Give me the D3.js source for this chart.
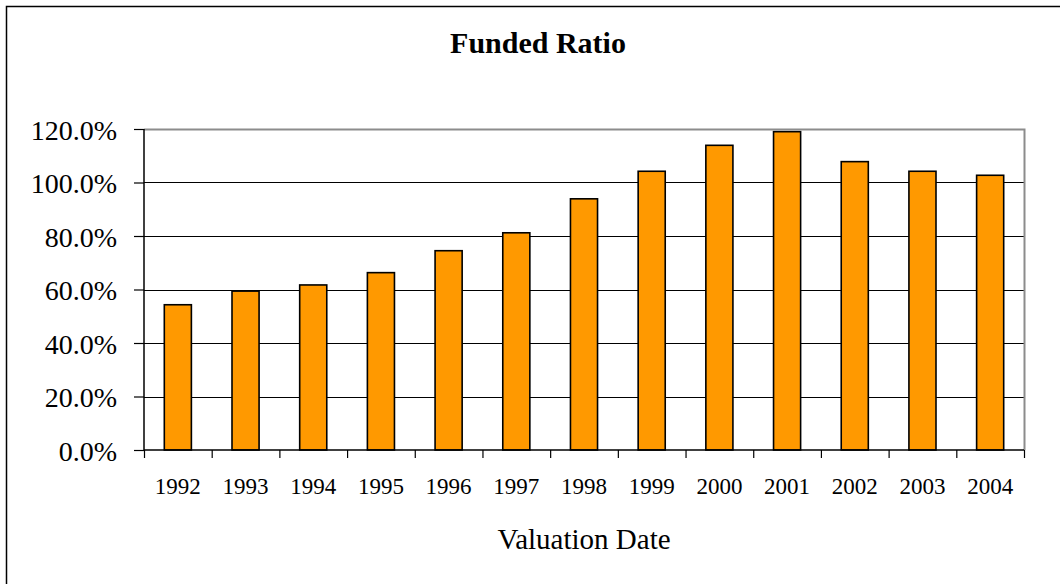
<!DOCTYPE html>
<html>
<head>
<meta charset="utf-8">
<script src="https://cdn.jsdelivr.net/npm/d3@7"></script>
<style>
	body { margin: 0; background: #fff; }
	svg { display: block; }
	text { font-family: "Liberation Serif", "Times New Roman", serif; fill: #000; }
</style>
</head>
<body>
<svg id="chart" width="1060" height="584"></svg>
<script>
const years = ['1992', '1993', '1994', '1995', '1996', '1997', '1998', '1999', '2000', '2001', '2002', '2003', '2004'];
const funded = [0.543, 0.594, 0.617, 0.663, 0.745, 0.812, 0.939, 1.042, 1.139, 1.190, 1.078, 1.042, 1.027];
const yTicks = [0, 0.2, 0.4, 0.6, 0.8, 1.0, 1.2];

const serif = '"Liberation Serif", "Times New Roman", serif';
const svg = d3.select('#chart');

// outer chart frame (runs off the right/bottom edge like the original)
svg.append('rect')
	.attr('x', 6.5).attr('y', 6.5)
	.attr('width', 1080).attr('height', 600)
	.attr('fill', 'none').attr('stroke', '#000').attr('stroke-width', 1.5);

const margin = {top: 129, right: 36, bottom: 134, left: 144};
const width = 1060 - margin.left - margin.right;
const height = 584 - margin.top - margin.bottom;

const g = svg.append('g').attr('transform', 'translate(' + margin.left + ',' + margin.top + ')');

const x = d3.scaleBand().domain(years).range([0, width]).paddingInner(0.6).paddingOuter(0.3);
const xb = d3.scaleLinear().domain([0, years.length]).range([0, width]);
const y = d3.scaleLinear().domain([0, 1.2]).range([height, 0]);

// gridlines
g.append('g')
	.selectAll('line')
	.data(yTicks.slice(1, -1))
	.enter().append('line')
	.attr('x1', 0).attr('x2', width)
	.attr('y1', d => Math.round(y(d)) + 0.5).attr('y2', d => Math.round(y(d)) + 0.5)
	.attr('stroke', '#000').attr('stroke-width', 1);

// plot area top / right border
g.append('path')
	.attr('d', 'M0,' + (y(1.2) + 0.5) + 'H' + (width + 0.5) + 'V' + height)
	.attr('fill', 'none').attr('stroke', '#8c8c8c').attr('stroke-width', 2);

// bars
g.selectAll('.bar')
	.data(funded)
	.enter().append('rect')
	.attr('class', 'bar')
	.attr('x', (d, i) => x(years[i]))
	.attr('y', d => y(d))
	.attr('width', x.bandwidth())
	.attr('height', d => height - y(d))
	.attr('fill', '#ff9900')
	.attr('stroke', '#000')
	.attr('stroke-width', 1.6);

// y axis
const yAxis = g.append('g')
	.call(d3.axisLeft(y).tickValues(yTicks).tickSize(10).tickPadding(17).tickFormat(d3.format('.1%')));
yAxis.attr('font-family', serif);
yAxis.select('.domain').attr('stroke', '#000').attr('stroke-width', 1.5).attr('d', 'M0,' + y(1.2) + 'V' + height);
yAxis.selectAll('.tick line').attr('stroke', '#000').attr('stroke-width', 1.2);
yAxis.selectAll('.tick text')
	.style('font-family', serif)
	.style('font-size', '28px')
	.attr('dy', '0.36em');

// x axis
const xAxis = g.append('g')
	.attr('transform', 'translate(0,' + height + ')')
	.call(d3.axisBottom(xb).tickValues(d3.range(years.length + 1)).tickSize(8).tickFormat(''));
xAxis.select('.domain').attr('stroke', '#000').attr('stroke-width', 1.5).attr('d', 'M0,0H' + width);
xAxis.selectAll('.tick line').attr('stroke', '#000').attr('stroke-width', 1.2);

g.append('g')
	.selectAll('text')
	.data(years)
	.enter().append('text')
	.attr('x', d => x(d) + x.bandwidth() / 2)
	.attr('y', height + 44)
	.attr('text-anchor', 'middle')
	.style('font-family', serif)
	.style('font-size', '23px')
	.text(d => d);

// axis title
g.append('text')
	.attr('x', width / 2)
	.attr('y', height + 99)
	.attr('text-anchor', 'middle')
	.style('font-family', serif)
	.style('font-size', '29px')
	.text('Valuation Date');

// chart title
svg.append('text')
	.attr('x', 538)
	.attr('y', 53)
	.attr('text-anchor', 'middle')
	.style('font-family', serif)
	.style('font-size', '30px')
	.style('font-weight', 'bold')
	.text('Funded Ratio');
</script>
</body>
</html>
